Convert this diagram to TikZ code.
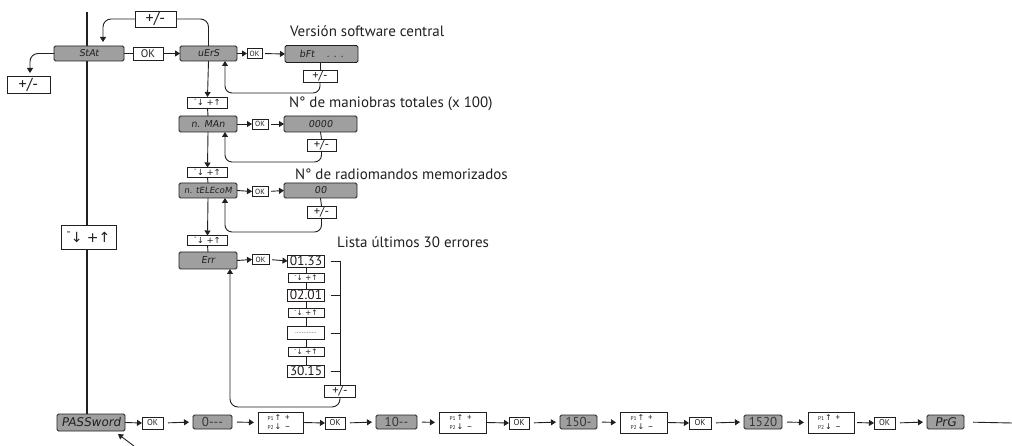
\documentclass[tikz,border=0pt]{standalone}
\usepackage{fontspec}
\setmainfont{PT Sans}
\newfontfamily\sym{DejaVu Sans}
\newfontfamily\lcd[FakeSlant=0.15]{DejaVu Sans}
\usetikzlibrary{arrows.meta}
\definecolor{ink}{HTML}{231F20}
\definecolor{lcdfill}{HTML}{9F9F9F}
\newcommand\udt{{\sym\raisebox{0.45em}{\scalebox{0.8}{-}}\kern0.02em↓\kern0.3em+↑}}
\newcommand\ppl[3]{\makebox[7pt][l]{\fontsize{5.5}{6}\selectfont #1}\makebox[7pt]{\sym\fontsize{8}{6}\selectfont #2}\makebox[12pt]{\fontsize{9}{6}\selectfont #3}}
\newcommand\pptxt{\ppl{P1}{↑}{+}\\[0.5pt]\ppl{P2}{↓}{–}}
\begin{document}
\begin{tikzpicture}[x=1pt,y=-1pt,
 every node/.style={outer sep=0pt, inner sep=0pt},
 sz/.style 2 args={minimum width=#1pt, minimum height=#2pt},
 disp/.style={draw=ink, fill=lcdfill, rounded corners=1.5pt, line width=0.8pt, text=ink, font=\lcd\fontsize{9.5}{9.5}\selectfont},
 val/.style={draw=ink, fill=lcdfill, rounded corners=1.5pt, line width=0.8pt, text=ink!90, font=\fontsize{13}{13}\selectfont},
 key/.style={draw=ink, fill=white, line width=0.8pt, text=ink},
 okk/.style={key, font=\fontsize{7.5}{7.5}\selectfont},
 pmk/.style={key, font=\fontsize{12.5}{12.5}\selectfont},
 udk/.style={key, font=\fontsize{8.5}{8.5}\selectfont},
 errk/.style={key, font=\fontsize{13.5}{13.5}\selectfont},
 ppk/.style={key, align=left, font=\fontsize{6}{8.5}\selectfont},
 conn/.style={draw=ink, line width=0.9pt},
 arr/.style={conn, -{Triangle[width=6pt,length=5pt]}},
 gap/.style={shorten <=5pt, shorten >=4pt},
 lab/.style={anchor=base west, font=\fontsize{15}{15}\selectfont, text=ink}]
\useasboundingbox (0,0) rectangle (1012,446);

% main vertical line
\node[disp, sz={68}{17}, font=\lcd\fontsize{12}{12}\selectfont] (pass) at (91,422.5) {PASSword};
\coordinate (top) at (87,12);
\draw[ink, line width=2pt] (top) -- (top |- pass.north);

% top level
\node[disp, sz={70}{15}] (stat) at (89,53.5) {StAt};
\node[key, sz={30}{13}, font=\fontsize{11}{11}\selectfont] (okA) at (148,53.5) {OK};
\node[key, sz={41}{16}, font=\fontsize{16}{16}\selectfont] (pmTop) at (155.5,19) {+/-};
\node[key, sz={43}{17}, font=\fontsize{16}{16}\selectfont] (pmLeft) at (28.5,84.5) {+/-};
\node[key, sz={55}{24}, font=\fontsize{14}{14}\selectfont] (udm) at (88.5,237) {\udt};
\node[disp, sz={57}{15}] (vers) at (208.5,53.5) {uErS};

\draw[conn] (stat.east) -- (okA.west);
\draw[arr] (okA.east) -- (vers.west);
\draw[arr, rounded corners=8pt] (pmTop.west) -| ([xshift=14pt,yshift=4pt]stat.north);
\draw[arr, rounded corners=8pt] (stat.west) -| ([xshift=1.5pt,yshift=3pt]pmLeft.north);

% row 1
\draw[conn, rounded corners=8pt] (pmTop.east) -| (vers.north);
\node[okk, sz={15}{10}] (ok1) at (254.5,53.5) {OK};
\node[disp, sz={73}{17}] (bft) at (321.5,54) {bFt\hspace{12pt}. . .\hspace{18pt}};
\node[pmk, sz={34}{12}] (pm1) at (320,76) {+/-};
\draw[arr] (vers.east) -- (ok1.west);
\draw[arr, shorten <=3pt] (ok1.east) -- (bft.west);
\draw[conn] (bft.south -| pm1.north) -- (pm1.north);
\coordinate (r1) at (225,93);
\draw[arr, rounded corners=7pt] (pm1.south) |- (r1) -- (r1 |- vers.south);
\node[udk, sz={40}{11}] (ud1) at (207.5,102.5) {\udt};
\draw[arr] (vers.south) -- (ud1.north);

% row 2
\node[disp, sz={58}{16}] (man) at (208,124) {n. MAn};
\node[okk, sz={16}{10}] (ok2) at (260,124) {OK};
\node[disp, sz={73}{16}] (v0000) at (320.5,124) {0000};
\node[pmk, sz={29}{12}] (pm2) at (321.5,145) {+/-};
\draw[conn] (ud1.south) -- (man.north);
\draw[arr] (man.east) -- (ok2.west);
\draw[arr, shorten <=3pt] (ok2.east) -- (v0000.west);
\draw[conn] (v0000.south) -- (pm2.north);
\coordinate (r2) at (225,162);
\draw[arr, rounded corners=7pt] (pm2.south) |- (r2) -- (r2 |- man.south);
\node[udk, sz={40}{10}] (ud2) at (207.5,172.5) {\udt};
\draw[arr] (man.south) -- (ud2.north);

% row 3
\node[disp, sz={58}{15}, font=\lcd\fontsize{8.5}{8.5}\selectfont] (tel) at (208,190.5) {n. tELEcoM};
\node[okk, sz={16}{10}] (ok3) at (260,191.5) {OK};
\node[disp, sz={73}{15}] (v00) at (320.5,190.5) {00};
\node[pmk, sz={29}{12}] (pm3) at (321.5,212) {+/-};
\draw[conn] (ud2.south) -- (tel.north);
\draw[arr] (tel.east) -- (ok3.west);
\draw[arr, shorten <=3pt] (ok3.east) -- (v00.west);
\draw[conn] (v00.south) -- (pm3.north);
\coordinate (r3) at (225,232);
\draw[arr, rounded corners=7pt] (pm3.south) |- (r3) -- (r3 |- tel.south);
\node[udk, sz={40}{10}] (ud3) at (207.5,240.5) {\udt};
\draw[arr] (tel.south) -- (ud3.north);

% row 4: errors
\node[disp, sz={58}{17}] (err) at (208,260.5) {Err};
\node[okk, sz={17}{10}] (ok4) at (260.5,259.5) {OK};
\draw[conn] (ud3.south) -- (err.north);
\draw[arr] (err.east) -- (ok4.west);
\node[errk, sz={37}{12}] (e1) at (306,261) {01.33};
\node[udk, sz={36}{9}, font=\fontsize{7.5}{7.5}\selectfont] (u1) at (306,278) {\udt};
\node[errk, sz={37}{12}] (e2) at (306,295) {02.01};
\node[udk, sz={36}{9}, font=\fontsize{7.5}{7.5}\selectfont] (u2) at (306,313) {\udt};
\node[errk, sz={37}{13}, font=\fontsize{6}{6}\selectfont] (e3) at (306,333) {.............};
\node[udk, sz={36}{9}, font=\fontsize{7.5}{7.5}\selectfont] (u3) at (306,352) {\udt};
\node[errk, sz={37}{12}] (e4) at (306,371) {30.15};
\draw[arr, shorten <=3pt] (ok4.east) -- (e1.west);
\draw[conn] (e1) -- (u1) (u1) -- (e2) (e2) -- (u2) (u2) -- (e3) (e3) -- (u3) (u3) -- (e4);
\foreach \e in {e1,e2,e3,e4} \draw[conn] ([xshift=6pt]\e.east) -- ([xshift=16pt]\e.east);
\node[pmk, sz={31}{12}] (pm4) at (340,391) {+/-};
\draw[conn] ([xshift=16pt]e1.east) -- ([xshift=16pt]e1.east |- pm4.north);
\coordinate (r4) at (230,407);
\draw[arr, rounded corners=8pt] (pm4.south) |- (r4) -- (r4 |- err.south);

% bottom row
\node[okk, sz={21}{12}, font=\fontsize{8.5}{8.5}\selectfont] (bok1) at (152.5,423) {OK};
\node[val, sz={39}{14}] (b0) at (212.5,422) {0{-}{-}{-}};
\node[ppk, sz={45}{21}] (bp1) at (280.5,422.5) {\pptxt};
\node[okk, sz={20}{12}, font=\fontsize{8.5}{8.5}\selectfont] (bok2) at (335,423) {OK};
\node[val, sz={41}{14}] (b10) at (396.5,422) {10{-}{-}};
\node[ppk, sz={47}{21}] (bp2) at (462.5,422.5) {\pptxt};
\node[okk, sz={20}{12}, font=\fontsize{8.5}{8.5}\selectfont] (bok3) at (519,423) {OK};
\node[val, sz={37}{14}] (b150) at (578.5,422) {150{-}};
\node[ppk, sz={47}{21}] (bp3) at (643.5,422.5) {\pptxt};
\node[okk, sz={22}{12}, font=\fontsize{8.5}{8.5}\selectfont] (bok4) at (700,423) {OK};
\node[val, sz={38}{14}] (b1520) at (763,422) {1520};
\node[ppk, sz={46}{21}] (bp4) at (831,422.5) {\pptxt};
\node[okk, sz={21}{12}, font=\fontsize{8.5}{8.5}\selectfont] (bok5) at (884.5,423) {OK};
\node[disp, sz={37}{14}, font=\lcd\fontsize{12}{12}\selectfont] (prg) at (945.5,422) {PrG};
\coordinate (endr) at (1012,423);

\draw[arr] (pass.east) -- (bok1.west);
\draw[arr, gap] (bok1.east) -- (b0.west);
\draw[arr, gap] (b0.east) -- (bp1.west);
\draw[arr] (bp1.east) -- (bok2.west);
\draw[arr, gap] (bok2.east) -- (b10.west);
\draw[arr, gap] (b10.east) -- (bp2.west);
\draw[arr] (bp2.east) -- (bok3.west);
\draw[arr, gap] (bok3.east) -- (b150.west);
\draw[arr, gap] (b150.east) -- (bp3.west);
\draw[arr] (bp3.east) -- (bok4.west);
\draw[arr, gap] (bok4.east) -- (b1520.west);
\draw[arr, gap] (b1520.east) -- (bp4.west);
\draw[arr, shorten <=3pt] (bp4.east) -- (bok5.west);
\draw[arr, gap] (bok5.east) -- (prg.west);
\draw[conn, shorten <=9pt] (prg.east) -- (endr);

\coordinate (pa1) at (134,446);
\coordinate (pa2) at (118,434);
\draw[arr] (pa1) -- (pa2);

% labels
\node[lab] (l1) at (290,37) {Versión software central};
\node[lab] (l2) at (289,108) {N° de maniobras totales (x 100)};
\node[lab] (l3) at (295,180) {N° de radiomandos memorizados};
\node[lab] (l4) at (337,248) {Lista últimos 30 errores};
\end{tikzpicture}
\end{document}
